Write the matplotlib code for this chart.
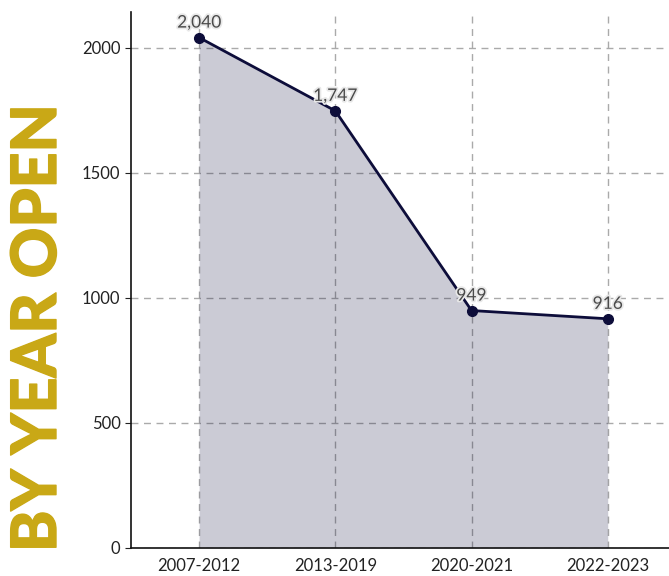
import matplotlib
matplotlib.use("Agg")
import matplotlib.pyplot as plt
import matplotlib.patheffects as pe

categories = ["2007-2012", "2013-2019", "2020-2021", "2022-2023"]
values = [2040, 1747, 949, 916]
labels = ["2,040", "1,747", "949", "916"]

plt.rcParams['font.family'] = ['Lato', 'DejaVu Sans']

fig = plt.figure(figsize=(6.69, 5.76), dpi=100)
ax = fig.add_axes([131/669, 28/576, 1 - 131/669, (548-12)/576])

x = list(range(len(categories)))
ax.fill_between(x, values, 0, color="#0d0d3a", alpha=0.21, lw=0, zorder=1)
ax.plot(x, values, color="#0d0d3a", lw=2, marker="o", ms=7, zorder=3)
for xi, v, t in zip(x, values, labels):
    ax.annotate(t, (xi, v), xytext=(0, 5), textcoords="offset points",
                ha="center", va="bottom", fontsize=12.5, color="#4a4a4a",
                path_effects=[pe.withStroke(linewidth=2.5, foreground="#e8e8e8")], zorder=4)

ax.set_xlim(-0.5, 3.45)
ax.set_ylim(0, 2142)
ax.set_xticks(x)
ax.set_xticklabels(categories)
ax.set_yticks([0, 500, 1000, 1500, 2000])
ax.tick_params(labelsize=12, colors="#222222", length=4)
ax.tick_params(axis="x", length=0, pad=7)
ax.grid(True, ls=(0, (5, 4)), color="#aaaaaa", lw=1, zorder=0)
ax.set_axisbelow(True)
for s in ["top", "right"]:
    ax.spines[s].set_visible(False)
for s in ["left", "bottom"]:
    ax.spines[s].set_color("#111111")
    ax.spines[s].set_linewidth(1.2)

fig.text(38/669, 1 - 328/576, "BY YEAR OPEN", rotation=90, ha="center", va="center",
         fontsize=45, fontweight=900, color="#c9a816",
         path_effects=[pe.withStroke(linewidth=1.0, foreground="#c9a816")])

fig.savefig("out.png", dpi=100)
